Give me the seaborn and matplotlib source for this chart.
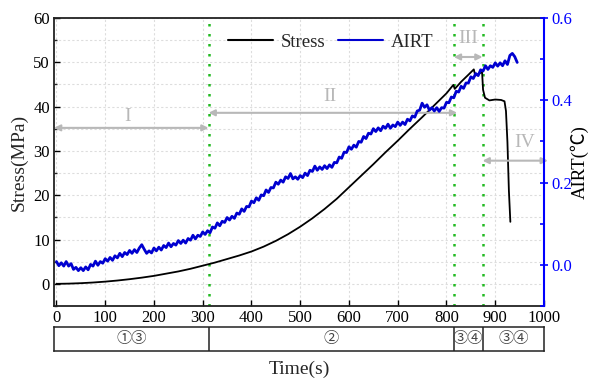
import numpy as np
import pandas as pd
import seaborn as sns
import matplotlib
matplotlib.use("Agg")
import matplotlib.pyplot as plt
from matplotlib.ticker import MultipleLocator, FormatStrFormatter

# ---------------- data ----------------
stress_t = [0, 25, 50, 75, 100, 125, 150, 175, 200, 225, 250, 275, 300, 325, 350, 375,
            400, 425, 450, 475, 500, 525, 550, 575, 600, 625, 650, 675, 700, 725, 750,
            775, 800, 814, 817, 830, 845, 856, 859, 873, 875, 879, 888, 900, 912, 919,
            922, 925, 928, 931]
stress_v = [0, 0.05, 0.15, 0.3, 0.5, 0.75, 1.05, 1.4, 1.8, 2.3, 2.8, 3.4, 4.1, 4.8, 5.6, 6.4,
            7.3, 8.4, 9.7, 11.2, 12.9, 14.8, 16.9, 19.2, 21.8, 24.4, 27.0, 29.7, 32.3, 35.0, 37.6,
            40.3, 43.0, 44.9, 44.0, 45.6, 47.2, 48.4, 47.0, 47.8, 43.8, 42.0, 41.4, 41.6, 41.5, 41.2,
            39.0, 32.0, 21.0, 14.0]

airt_t = list(range(0, 950, 5))
airt_v = [
    0.008, -0.002, 0.005, -0.003, 0.008, -0.003, 0.003, -0.011, -0.006, -0.014,
    -0.007, -0.014, -0.005, -0.012, 0.001, -0.003, 0.009, -0.001, 0.008, 0.004,
    0.015, 0.009, 0.018, 0.011, 0.022, 0.017, 0.028, 0.020, 0.030, 0.025,
    0.035, 0.028, 0.037, 0.030, 0.041, 0.049, 0.038, 0.028, 0.034, 0.029,
    0.041, 0.034, 0.043, 0.036, 0.047, 0.042, 0.053, 0.044, 0.052, 0.048,
    0.059, 0.052, 0.060, 0.053, 0.064, 0.060, 0.072, 0.063, 0.072, 0.069,
    0.080, 0.074, 0.083, 0.078, 0.092, 0.089, 0.102, 0.095, 0.106, 0.103,
    0.115, 0.109, 0.118, 0.113, 0.126, 0.123, 0.136, 0.130, 0.142, 0.141,
    0.155, 0.151, 0.163, 0.157, 0.170, 0.168, 0.182, 0.176, 0.188, 0.187,
    0.201, 0.196, 0.206, 0.201, 0.214, 0.210, 0.222, 0.209, 0.214, 0.208,
    0.217, 0.212, 0.223, 0.217, 0.230, 0.227, 0.240, 0.230, 0.238, 0.232,
    0.241, 0.234, 0.243, 0.237, 0.249, 0.248, 0.262, 0.259, 0.274, 0.273,
    0.287, 0.281, 0.291, 0.286, 0.300, 0.298, 0.312, 0.307, 0.320, 0.318,
    0.331, 0.324, 0.333, 0.326, 0.337, 0.332, 0.342, 0.332, 0.340, 0.336,
    0.347, 0.339, 0.347, 0.341, 0.354, 0.350, 0.362, 0.359, 0.374, 0.376,
    0.393, 0.383, 0.389, 0.376, 0.382, 0.374, 0.382, 0.373, 0.382, 0.381,
    0.395, 0.394, 0.408, 0.406, 0.422, 0.420, 0.434, 0.429, 0.442, 0.442,
    0.457, 0.453, 0.465, 0.460, 0.474, 0.471, 0.484, 0.475, 0.484, 0.480,
    0.491, 0.483, 0.491, 0.484, 0.496, 0.487, 0.509, 0.514, 0.506, 0.492,
]

stage_bounds = [312, 815, 874]
stage_labels = ["I", "II", "III", "IV"]
stage_spans = [(-5, 312), (312, 822), (815, 874), (874, 1008)]
stage_arrow_y = [35.2, 38.6, 51.2, 27.8]
stage_text_pos = [(145, 37.8), (560, 42.3), (845, 55.3), (960, 31.8)]
box_labels = ["①③", "②", "③④", "③④"]
box_spans = [(-5, 312), (312, 815), (815, 874), (874, 1000)]

# ---------------- style ----------------
sns.set_theme(style="white")
serif = ["Liberation Serif", "Noto Sans CJK SC", "DejaVu Sans"]
plt.rcParams["font.family"] = serif

fig = plt.figure(figsize=(5.89, 3.79), dpi=100)
ax = fig.add_axes([54/589, 1-306/379, 490/589, 288/379])
axb = fig.add_axes([54/589, 1-351/379, 490/589, 24/379])

df_s = pd.DataFrame({"t": stress_t, "v": stress_v})
df_a = pd.DataFrame({"t": airt_t, "v": airt_v})

sns.lineplot(data=df_s, x="t", y="v", ax=ax, color="black", lw=1.3,
             estimator=None, sort=False, legend=False, label="Stress")
ax2 = ax.twinx()
sns.lineplot(data=df_a, x="t", y="v", ax=ax2, color="#0000d0", lw=2.0,
             estimator=None, sort=False, legend=False, label="AIRT")

ax.set_xlim(-5, 1000)
ax.set_ylim(-5, 60)
ax2.set_ylim(-0.1, 0.6)

ax.xaxis.set_major_locator(MultipleLocator(100))
ax.yaxis.set_major_locator(MultipleLocator(10))
ax.yaxis.set_minor_locator(MultipleLocator(5))
ax2.yaxis.set_major_locator(MultipleLocator(0.2))
ax2.yaxis.set_minor_locator(MultipleLocator(0.1))
ax2.yaxis.set_major_formatter(FormatStrFormatter("%.1f"))

ax.grid(True, which="both", axis="y", color="#dddddd", ls=(0, (2, 2)), lw=0.8)
ax.grid(True, which="major", axis="x", color="#dddddd", ls=(0, (2, 2)), lw=0.8)
ax.set_axisbelow(True)

ax.tick_params(axis="both", which="major", direction="in", length=4, width=1,
               labelsize=12, colors="black", pad=3)
ax.tick_params(axis="y", which="minor", direction="in", length=2.5, width=1, left=True)
ax.tick_params(axis="x", which="both", bottom=True)
ax.tick_params(axis="y", which="both", left=True)
ax2.tick_params(axis="y", which="major", direction="inout", length=6, width=1.2,
                colors="#0000ff", labelsize=12, right=True, pad=2)
ax2.tick_params(axis="y", which="minor", direction="in", length=3, width=1.2,
                colors="#0000ff", right=True)

for s in ["left", "bottom", "top"]:
    ax.spines[s].set_color("#222222")
    ax.spines[s].set_linewidth(1.3)
ax.spines["right"].set_visible(False)
for s in ["left", "bottom", "top"]:
    ax2.spines[s].set_visible(False)
ax2.spines["right"].set_color("#0000ff")
ax2.spines["right"].set_linewidth(1.5)

ax.set_xlabel("")
ax.set_ylabel("Stress(MPa)", fontsize=14, labelpad=4)
ax2.set_ylabel("AIRT(℃)", fontsize=13.5, rotation=90, labelpad=-1, color="black")

# stage boundaries
for b in stage_bounds:
    ax.axvline(b, color="#22bb22", ls=(0, (1, 3)), lw=1.8, zorder=1)

# stage arrows and labels
for lab, (x0, x1), ya, (tx, ty) in zip(stage_labels, stage_spans, stage_arrow_y, stage_text_pos):
    ax.annotate("", xy=(x0, ya), xytext=(x1, ya),
                arrowprops=dict(arrowstyle="<|-|>", color="#b8b8b8", lw=1.5,
                                mutation_scale=9, shrinkA=0, shrinkB=0),
                annotation_clip=False)
    ax.text(tx, ty, lab, color="#b8b8b8", fontsize=14, ha="center", va="center")

# legend
handles = [ax.get_lines()[0], ax2.get_lines()[0]]
leg = ax.legend(handles, ["Stress", "AIRT"], loc="center", bbox_to_anchor=(0.565, 0.915),
                ncol=2, frameon=False, fontsize=13.5, handlelength=2.4,
                handletextpad=0.4, columnspacing=0.7)
for h in leg.get_lines():
    h.set_linewidth(1.5)

# bottom stage box
axb.set_xlim(-5, 1000)
axb.set_ylim(0, 1)
axb.set_xticks([])
axb.set_yticks([])
for s in axb.spines.values():
    s.set_color("#222222")
    s.set_linewidth(1.1)
for b in stage_bounds:
    axb.axvline(b, color="#222222", lw=1.1)
for lab, (x0, x1) in zip(box_labels, box_spans):
    axb.text((x0 + x1) / 2, 0.5, lab, ha="center", va="center", fontsize=11,
             color="#444444", family=["Noto Sans CJK SC", "DejaVu Sans"])

fig.text(299/589, 1-369/379, "Time(s)", ha="center", va="center", fontsize=14)

fig.savefig("out.png", dpi=100)
